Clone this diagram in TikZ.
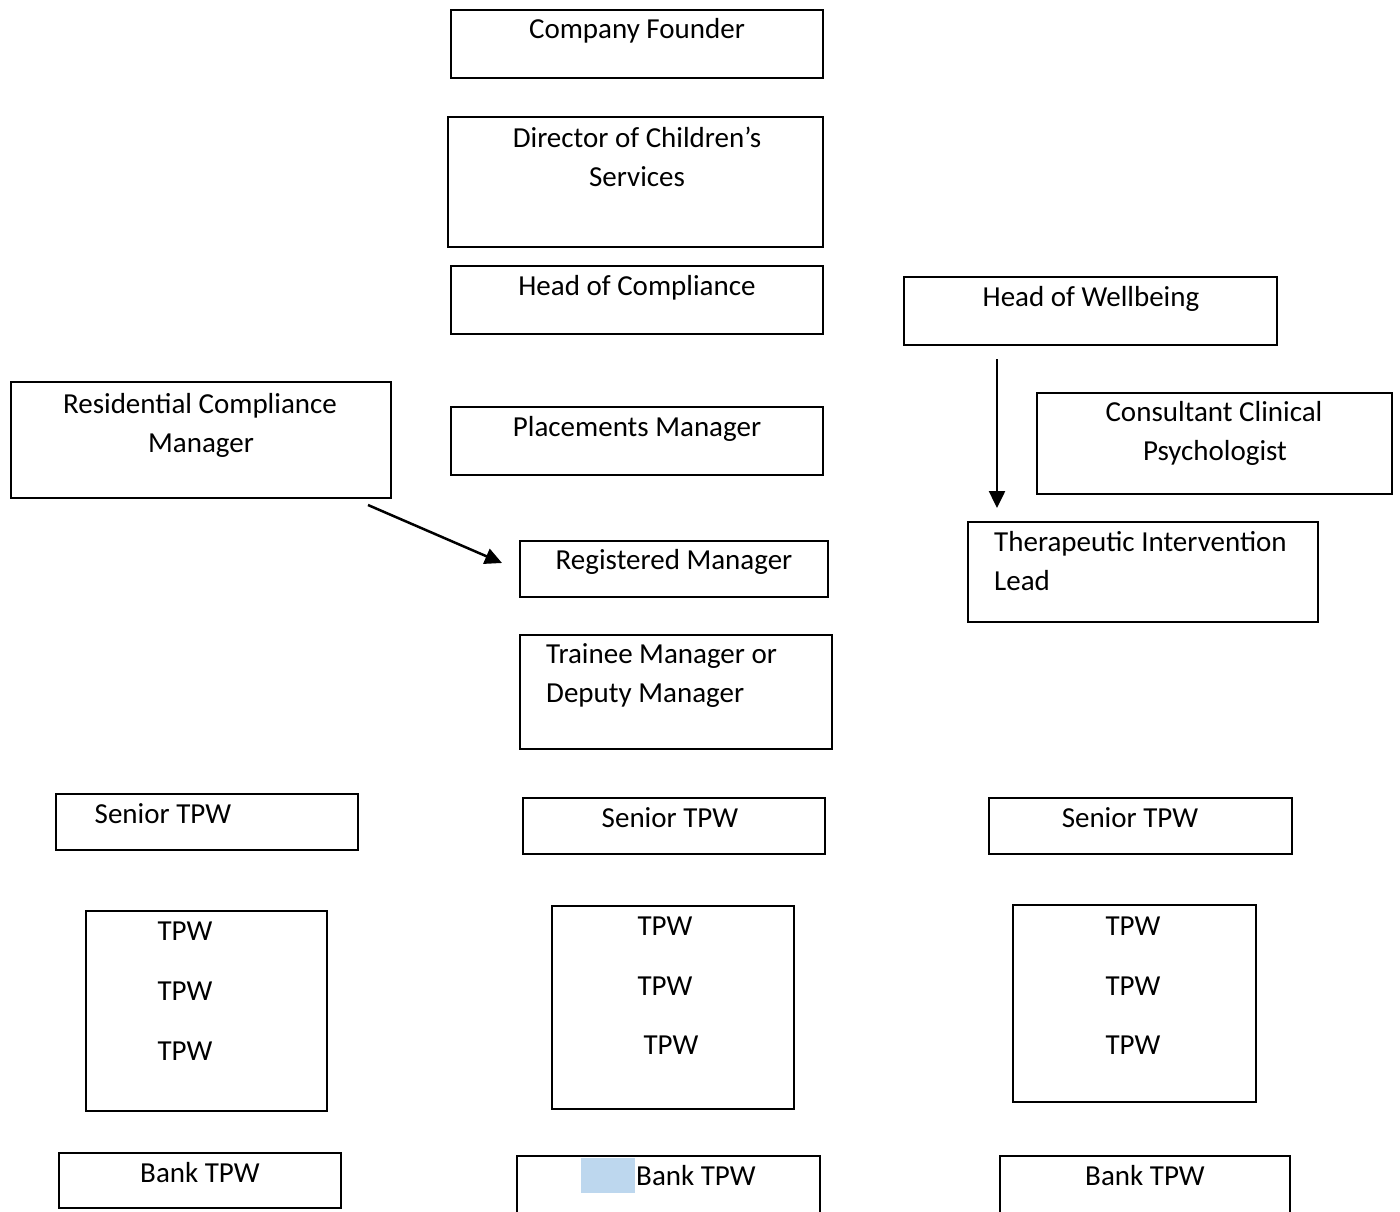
\documentclass[tikz,border=0pt]{standalone}
\usepackage{fontspec}
\setmainfont{Carlito}
\usetikzlibrary{arrows.meta,fit}
\definecolor{hilite}{HTML}{BDD7EE}
\tikzset{
  box/.style={draw=black, line width=2pt, inner sep=0pt, outer sep=0pt},
  lbl/.style={anchor=base, inner sep=0pt, font=\fontsize{29}{38}\selectfont},
  lbll/.style={anchor=base west, inner sep=0pt, font=\fontsize{29}{38}\selectfont},
  arr/.style={line width=2.5pt, -{Triangle[length=17pt,width=16pt]}}
}
\newcommand{\mkbox}[5]{\node[box, fit={(#2,#3)(#4,#5)}] (#1) {};}
\begin{document}
\begin{tikzpicture}[x=1pt,y=-1pt]
\useasboundingbox (0,0) rectangle (1400,1212);
\clip (0,0) rectangle (1400,1212);
\fill[white] (0,0) rectangle (1400,1212);
% boxes
\mkbox{cf}{451}{10}{823}{78}
\mkbox{dcs}{448}{117}{823}{247}
\mkbox{hoc}{451}{266}{823}{334}
\mkbox{hw}{904}{277}{1277}{345}
\mkbox{rcm}{11}{382}{391}{498}
\mkbox{pm}{451}{407}{823}{475}
\mkbox{ccp}{1037}{393}{1392}{494}
\mkbox{til}{968}{522}{1318}{622}
\mkbox{rm}{520}{541}{828}{597}
\mkbox{tm}{520}{635}{832}{749}
\mkbox{stl}{56}{794}{358}{850}
\mkbox{stm}{523}{798}{825}{854}
\mkbox{str}{989}{798}{1292}{854}
\mkbox{tl}{86}{911}{327}{1111}
\mkbox{tm2}{552}{906}{794}{1109}
\mkbox{tr}{1013}{905}{1256}{1102}
\mkbox{bl}{59}{1153}{341}{1208}
\mkbox{bm}{517}{1156}{820}{1240}
\mkbox{br}{1000}{1156}{1290}{1240}
% highlight
\node[fill=hilite, inner sep=0pt, fit={(581,1158)(635,1193)}] (hl) {};
% texts
\node[lbl] (t-cf) at (637,39) {Company Founder};
\node[lbl] (t-dcs1) at (637,148) {Director of Children’s};
\node[lbl] (t-dcs2) at (637,186) {Services};
\node[lbl] (t-hoc) at (637,295) {Head of Compliance};
\node[lbl] (t-hw) at (1091,306) {Head of Wellbeing};
\node[lbl] (t-rcm1) at (200,413) {Residential Compliance};
\node[lbl] (t-rcm2) at (201,452) {Manager};
\node[lbl] (t-pm) at (637,436) {Placements Manager};
\node[lbl] (t-ccp1) at (1214,421) {Consultant Clinical};
\node[lbl] (t-ccp2) at (1215,460) {Psychologist};
\node[lbll] (t-til1) at (994,551) {Therapeutic Intervention};
\node[lbll] (t-til2) at (994,590) {Lead};
\node[lbl] (t-rm) at (674,569) {Registered Manager};
\node[lbll] (t-tm1) at (546,663) {Trainee Manager or};
\node[lbll] (t-tm2) at (546,702) {Deputy Manager};
\node[lbl] (t-stl) at (163,823) {Senior TPW};
\node[lbl] (t-stm) at (670,827) {Senior TPW};
\node[lbl] (t-str) at (1130,827) {Senior TPW};
\node[lbl] (t-tl1) at (185,940) {TPW};
\node[lbl] (t-tl2) at (185,1000) {TPW};
\node[lbl] (t-tl3) at (185,1060) {TPW};
\node[lbl] (t-tm21) at (665,935) {TPW};
\node[lbl] (t-tm22) at (665,995) {TPW};
\node[lbl] (t-tm23) at (671,1054) {TPW};
\node[lbl] (t-tr1) at (1133,935) {TPW};
\node[lbl] (t-tr2) at (1133,995) {TPW};
\node[lbl] (t-tr3) at (1133,1054) {TPW};
\node[lbl] (t-bl) at (200,1182) {Bank TPW};
\node[lbl] (t-bm) at (696,1185) {Bank TPW};
\node[lbl] (t-br) at (1145,1185) {Bank TPW};
% arrows
\draw[arr] ([shift={(-23,7)}]rcm.south east) -- ([shift={(-18,22)}]rm.north west);
\draw[arr] ([shift={(-93.5,14)}]hw.south) -- ([shift={(29,-14)}]til.north west);
\end{tikzpicture}
\end{document}
